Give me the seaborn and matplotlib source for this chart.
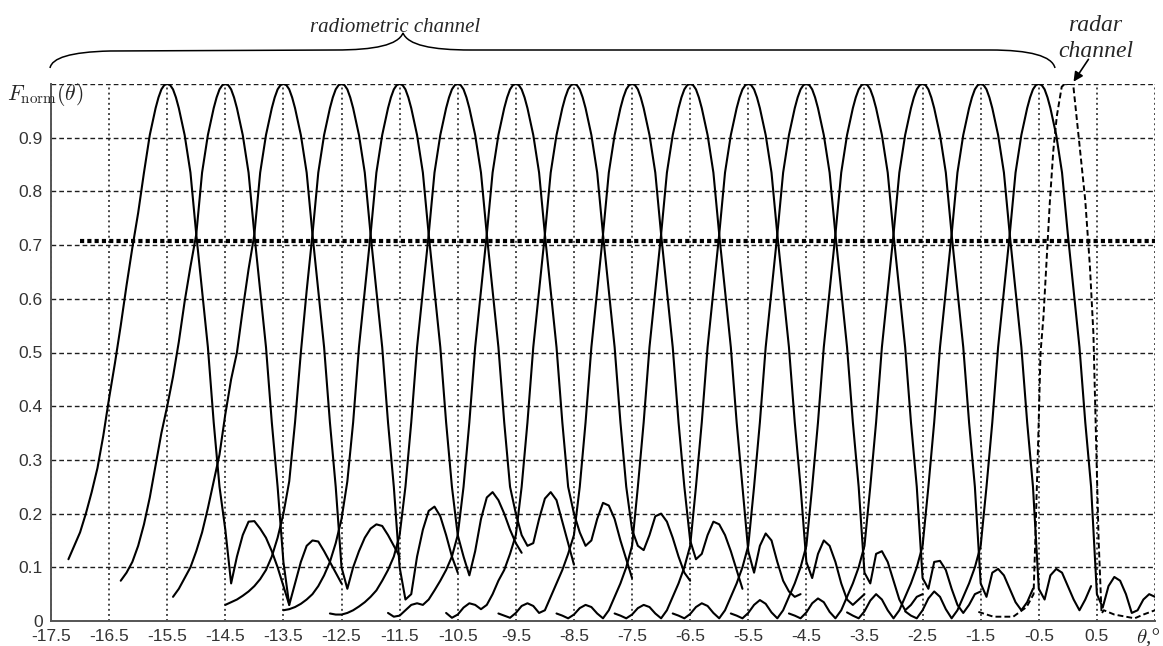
import numpy as np
import pandas as pd
import matplotlib
matplotlib.use("Agg")
import matplotlib.pyplot as plt
import seaborn as sns
from matplotlib.path import Path
from matplotlib.patches import PathPatch, FancyArrowPatch

nan = np.nan

# ---------------- data ----------------
beam_centres = [-15.5, -14.5, -13.5, -12.5, -11.5, -10.5, -9.5, -8.5,
                -7.5, -6.5, -5.5, -4.5, -3.5, -2.5, -1.5, -0.5]

# main lobe, common to all radiometric beams (offset from beam centre, degrees)
lobe_offsets = [-0.4, -0.3, -0.2, -0.15, -0.1, -0.05, 0.0, 0.05, 0.1, 0.15, 0.2, 0.3,
                0.4, 0.5, 0.6, 0.7, 0.8, 0.9]
lobe_values = [0.835, 0.905, 0.955, 0.975, 0.99, 0.998, 1.0, 0.998, 0.99, 0.975, 0.955,
               0.905, 0.835, 0.72, 0.615, 0.51, 0.37, 0.25]

# left flank / tail of every beam
left_offsets = [-2.3, -2.2, -2.1, -2.0, -1.9, -1.8, -1.7, -1.6, -1.5, -1.4,
                -1.3, -1.2, -1.1, -1.0, -0.9, -0.8, -0.7, -0.6, -0.5]
left_values = [
    [nan, nan, nan, nan, nan, nan, 0.115, 0.14, 0.165, 0.20, 0.24, 0.285, 0.345, 0.415, 0.48, 0.55, 0.625, 0.695, 0.76],
    [nan, nan, nan, nan, nan, 0.075, 0.09, 0.11, 0.14, 0.18, 0.23, 0.29, 0.35, 0.40, 0.455, 0.52, 0.595, 0.66, 0.72],
    [nan, nan, nan, nan, 0.045, 0.06, 0.08, 0.10, 0.13, 0.165, 0.21, 0.26, 0.31, 0.385, 0.45, 0.50, 0.58, 0.655, 0.72],
    [nan, nan, nan, 0.03, 0.035, 0.04, 0.047, 0.055, 0.065, 0.078, 0.095, 0.12, 0.155, 0.20, 0.26, 0.37, 0.50, 0.615, 0.72],
    [nan, nan, nan, 0.02, 0.022, 0.026, 0.032, 0.04, 0.05, 0.065, 0.085, 0.11, 0.145, 0.19, 0.26, 0.37, 0.51, 0.615, 0.72],
    [nan, 0.014, 0.012, 0.012, 0.015, 0.02, 0.027, 0.035, 0.045, 0.057, 0.075, 0.095, 0.12, 0.16, 0.25, 0.37, 0.51, 0.615, 0.72],
    [nan, 0.015, 0.008, 0.01, 0.02, 0.03, 0.033, 0.03, 0.04, 0.057, 0.075, 0.095, 0.12, 0.16, 0.25, 0.37, 0.51, 0.615, 0.72],
    [nan, 0.015, 0.006, 0.012, 0.025, 0.033, 0.03, 0.022, 0.03, 0.05, 0.075, 0.095, 0.125, 0.16, 0.25, 0.37, 0.51, 0.615, 0.72],
    [0.014, 0.01, 0.006, 0.015, 0.028, 0.033, 0.028, 0.015, 0.02, 0.045, 0.07, 0.095, 0.125, 0.16, 0.25, 0.37, 0.51, 0.615, 0.72],
    [0.014, 0.01, 0.005, 0.012, 0.024, 0.03, 0.026, 0.014, 0.005, 0.02, 0.045, 0.07, 0.10, 0.14, 0.25, 0.37, 0.51, 0.615, 0.72],
    [0.014, 0.01, 0.005, 0.012, 0.024, 0.03, 0.026, 0.014, 0.005, 0.02, 0.045, 0.07, 0.10, 0.14, 0.25, 0.37, 0.51, 0.615, 0.72],
    [0.014, 0.01, 0.005, 0.013, 0.026, 0.033, 0.028, 0.015, 0.005, 0.02, 0.045, 0.07, 0.10, 0.14, 0.25, 0.37, 0.51, 0.615, 0.72],
    [0.014, 0.01, 0.005, 0.015, 0.03, 0.039, 0.032, 0.016, 0.005, 0.02, 0.045, 0.07, 0.10, 0.14, 0.25, 0.37, 0.51, 0.615, 0.72],
    [0.014, 0.01, 0.005, 0.016, 0.033, 0.042, 0.035, 0.017, 0.005, 0.02, 0.045, 0.07, 0.10, 0.14, 0.25, 0.37, 0.51, 0.615, 0.72],
    [0.016, 0.01, 0.005, 0.018, 0.038, 0.05, 0.04, 0.02, 0.005, 0.02, 0.045, 0.07, 0.10, 0.14, 0.25, 0.37, 0.51, 0.615, 0.72],
    [0.018, 0.01, 0.005, 0.02, 0.042, 0.055, 0.045, 0.022, 0.005, 0.02, 0.045, 0.07, 0.10, 0.14, 0.25, 0.37, 0.51, 0.615, 0.72],
]

# right flank / first sidelobe of every beam
right_offsets = [1.0, 1.1, 1.2, 1.3, 1.4, 1.5, 1.6, 1.7, 1.8, 1.9, 2.0, 2.1]
right_values = [
    [0.17, 0.07, 0.12, 0.16, 0.185, 0.186, 0.172, 0.155, 0.13, 0.10, 0.065, 0.03],
    [0.11, 0.03, 0.07, 0.11, 0.14, 0.15, 0.148, 0.13, 0.11, 0.09, 0.07, nan],
    [0.10, 0.06, 0.10, 0.13, 0.155, 0.172, 0.18, 0.177, 0.16, 0.14, 0.12, nan],
    [0.10, 0.04, 0.05, 0.12, 0.17, 0.205, 0.213, 0.195, 0.16, 0.12, 0.09, nan],
    [0.16, 0.12, 0.085, 0.13, 0.19, 0.23, 0.24, 0.225, 0.20, 0.17, 0.145, 0.127],
    [0.20, 0.16, 0.14, 0.145, 0.19, 0.228, 0.24, 0.225, 0.185, 0.145, 0.105, nan],
    [0.20, 0.165, 0.14, 0.15, 0.19, 0.22, 0.215, 0.19, 0.15, 0.115, 0.08, nan],
    [0.17, 0.14, 0.132, 0.16, 0.195, 0.20, 0.185, 0.155, 0.12, 0.09, 0.075, nan],
    [0.15, 0.115, 0.125, 0.16, 0.185, 0.18, 0.16, 0.13, 0.095, 0.06, nan, nan],
    [0.13, 0.09, 0.14, 0.163, 0.15, 0.11, 0.075, 0.055, 0.045, 0.05, nan, nan],
    [0.11, 0.08, 0.125, 0.15, 0.14, 0.11, 0.07, 0.04, 0.03, 0.04, 0.05, nan],
    [0.09, 0.07, 0.125, 0.13, 0.11, 0.075, 0.04, 0.02, 0.03, 0.045, 0.05, nan],
    [0.08, 0.06, 0.11, 0.112, 0.095, 0.06, 0.03, 0.015, 0.03, 0.05, 0.055, nan],
    [0.07, 0.045, 0.09, 0.097, 0.085, 0.06, 0.035, 0.02, 0.035, 0.06, nan, nan],
    [0.06, 0.04, 0.085, 0.097, 0.09, 0.065, 0.04, 0.02, 0.04, 0.065, nan, nan],
    [0.05, 0.025, 0.065, 0.082, 0.075, 0.05, 0.015, 0.02, 0.04, 0.05, 0.045, nan],
]

# radar channel (dashed)
radar_theta = [-1.54, -1.28, -0.94, -0.71, -0.59, -0.56, -0.51, -0.47, -0.42, -0.31, -0.25,
               -0.19, -0.105, -0.05, 0.07, 0.096, 0.18, 0.30, 0.38, 0.44, 0.50, 0.53, 0.58,
               0.62, 0.8, 1.0, 1.15, 1.3, 1.5]
radar_values = [0.017, 0.008, 0.008, 0.026, 0.05, 0.15, 0.337, 0.50, 0.566, 0.78, 0.876,
                0.94, 0.995, 1.0, 1.0, 0.995, 0.908, 0.783, 0.66, 0.535, 0.275, 0.15, 0.014,
                0.02, 0.012, 0.008, 0.005, 0.012, 0.02]

half_power_level = 0.707
half_power_theta = [-17.0, 1.5]

xtick_values = [-17.5, -16.5, -15.5, -14.5, -13.5, -12.5, -11.5, -10.5, -9.5, -8.5,
                -7.5, -6.5, -5.5, -4.5, -3.5, -2.5, -1.5, -0.5, 0.5]
xtick_labels = ["-17.5", "-16.5", "-15.5", "-14.5", "-13.5", "-12.5", "-11.5", "-10.5",
                "-9.5", "-8.5", "-7.5", "-6.5", "-5.5", "-4.5", "-3.5", "-2.5", "-1.5",
                "-0.5", "0.5"]
ytick_values = [0, 0.1, 0.2, 0.3, 0.4, 0.5, 0.6, 0.7, 0.8, 0.9]
ytick_labels = ["0", "0.1", "0.2", "0.3", "0.4", "0.5", "0.6", "0.7", "0.8", "0.9"]

# ---------------- build long table ----------------
rows = []
for b, c in enumerate(beam_centres):
    for o, v in zip(left_offsets, left_values[b]):
        if not np.isnan(v):
            rows.append((b, c + o, v))
    for o, v in zip(lobe_offsets, lobe_values):
        rows.append((b, c + o, v))
    for o, v in zip(right_offsets, right_values[b]):
        if not np.isnan(v):
            rows.append((b, c + o, v))
beams = pd.DataFrame(rows, columns=["beam", "theta", "F"])
radar = pd.DataFrame({"theta": radar_theta, "F": radar_values})

# ---------------- figure ----------------
sns.set_style("white")
plt.rcParams["mathtext.fontset"] = "cm"
W, H = 1163, 646
fig = plt.figure(figsize=(W / 100, H / 100), dpi=100)
ax = fig.add_axes([51 / W, 1 - 621 / H, (1155 - 51) / W, (621 - 84) / H])
ax.set_xlim(-17.5, 1.5)
ax.set_ylim(0, 1)

grid_col = "#1e1e1e"
vgrid = dict(color=grid_col, lw=1.15, linestyle=(0, (1.2, 2.0)))
hgrid = dict(color=grid_col, lw=1.0, linestyle=(0, (3.4, 2.2)))
ax.set_xticks(xtick_values)
ax.set_xticklabels(xtick_labels)
ax.set_yticks(ytick_values)
ax.set_yticklabels(ytick_labels)
ax.xaxis.grid(True, **vgrid)
ax.yaxis.grid(True, **hgrid)
ax.axvline(1.5, zorder=0.5, **vgrid)
ax.axhline(1.0, zorder=0.5, **hgrid)
ax.set_axisbelow(True)

for s in ["top", "right"]:
    ax.spines[s].set_visible(False)
for s in ["left", "bottom"]:
    ax.spines[s].set_color("#555555")
    ax.spines[s].set_linewidth(1.4)

ax.tick_params(axis="both", direction="in", length=4, width=1, color="#555555",
               labelsize=12.5, labelcolor="#333333")
ax.tick_params(axis="x", pad=6)
ax.tick_params(axis="y", pad=6)
for lab in ax.get_xticklabels() + ax.get_yticklabels():
    lab.set_fontfamily("Liberation Sans")

# half-power level
ax.plot(half_power_theta, [half_power_level, half_power_level], color="black",
        lw=3.0, linestyle=(0, (1.0, 0.75)), solid_capstyle="butt", zorder=2)

# radiometric beams
sns.lineplot(data=beams, x="theta", y="F", units="beam", estimator=None, sort=False,
             color="black", lw=1.5, ax=ax, legend=False, zorder=3)

# radar beam
n_before = len(ax.lines)
sns.lineplot(data=radar, x="theta", y="F", estimator=None, sort=False,
             color="black", lw=1.4, ax=ax, legend=False, zorder=3)
for ln in ax.lines[n_before:]:
    ln.set_linestyle((0, (3.0, 1.6)))

ax.set_xlabel("")
ax.set_ylabel("")

# ---------------- annotations ----------------
def P(x, y):
    return (x / W, 1 - y / H)

verts = [P(50, 68), P(52, 58), P(70, 52), P(110, 51),
         P(335, 50),
         P(375, 50), P(398, 45), P(403, 33),
         P(408, 45), P(431, 50), P(471, 50),
         P(990, 50),
         P(1030, 50), P(1052, 56), P(1055, 68)]
codes = [Path.MOVETO, Path.CURVE4, Path.CURVE4, Path.CURVE4,
         Path.LINETO,
         Path.CURVE4, Path.CURVE4, Path.CURVE4,
         Path.CURVE4, Path.CURVE4, Path.CURVE4,
         Path.LINETO,
         Path.CURVE4, Path.CURVE4, Path.CURVE4]
fig.patches.append(PathPatch(Path(verts, codes), transform=fig.transFigure,
                             facecolor="none", edgecolor="black", lw=1.1))

serif = ["Liberation Serif", "DejaVu Serif"]
fig.text(395 / W, 1 - 32 / H, "radiometric channel", ha="center", va="baseline",
         fontsize=15, style="italic", family=serif)
fig.text(1095 / W, 1 - 31 / H, "radar", ha="center", va="baseline",
         fontsize=17, style="italic", family=serif)
fig.text(1096 / W, 1 - 57 / H, "channel", ha="center", va="baseline",
         fontsize=17, style="italic", family=serif)
fig.patches.append(FancyArrowPatch(P(1090, 57), P(1072, 84), transform=fig.transFigure,
                                   arrowstyle="-|>", mutation_scale=14, lw=1.2,
                                   color="black"))

fig.text(45 / W, 1 - 94 / H, r"$F_{\mathrm{norm}}(\theta)$", ha="center", va="center",
         fontsize=15.5)
fig.text(1148 / W, 1 - 637 / H, r"$\theta$,°", ha="center", va="center",
         fontsize=15, family=serif, style="italic")

fig.savefig("out.png", dpi=100, facecolor="white")
